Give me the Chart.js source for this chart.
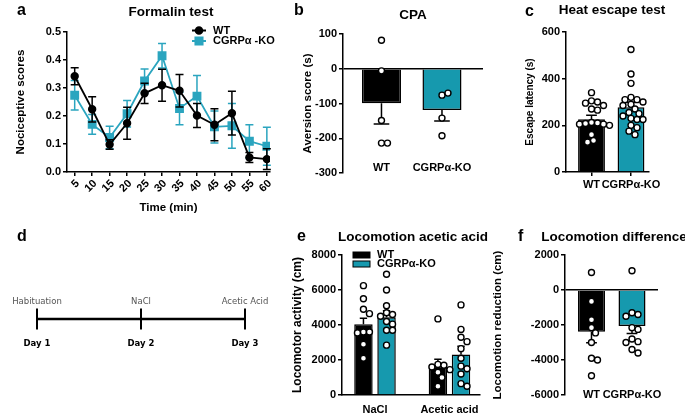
<!DOCTYPE html>
<html>
<head>
<meta charset="utf-8">
<script src="https://cdn.jsdelivr.net/npm/chart.js@4.4.1/dist/chart.umd.min.js"></script>
<style>
  body { margin: 0; width: 685px; height: 415px; background: #fff; position: relative; overflow: hidden;
         font-family: "Liberation Sans", Arial, sans-serif; }
  canvas { position: absolute; }
  .lbl { position: absolute; font-weight: bold; white-space: nowrap; line-height: 1; font-size: 16px; }
  .ttl { position: absolute; font-weight: bold; white-space: nowrap; line-height: 1; font-size: 13.5px; transform: translateX(-50%); }
</style>
</head>
<body>
<canvas id="chartA" width="285" height="215" style="left:0;top:0"></canvas>
<canvas id="chartB" width="200" height="200" style="left:290px;top:0"></canvas>
<canvas id="chartC" width="195" height="200" style="left:490px;top:0"></canvas>
<canvas id="chartD" width="285" height="175" style="left:0;top:240px"></canvas>
<canvas id="chartE" width="200" height="175" style="left:290px;top:240px"></canvas>
<canvas id="chartF" width="195" height="175" style="left:490px;top:240px"></canvas>

<div class="lbl" style="left:17px;top:2px">a</div>
<div class="lbl" style="left:294px;top:2px">b</div>
<div class="lbl" style="left:525px;top:3px">c</div>
<div class="lbl" style="left:17px;top:228px">d</div>
<div class="lbl" style="left:297px;top:228px">e</div>
<div class="lbl" style="left:518px;top:228px">f</div>

<div class="ttl" style="left:171px;top:5px">Formalin test</div>
<div class="ttl" style="left:413px;top:8px">CPA</div>
<div class="ttl" style="left:612px;top:3px">Heat escape test</div>
<div class="ttl" style="left:413px;top:230px">Locomotion acetic acid</div>
<div class="ttl" style="left:614px;top:230px">Locomotion difference</div>

<script>
// a - formalin test
const timeMin = [5, 10, 15, 20, 25, 30, 35, 40, 45, 50, 55, 60];
const wtScore = [0.342, 0.224, 0.098, 0.174, 0.281, 0.31, 0.29, 0.202, 0.169, 0.21, 0.052, 0.046];
const wtScoreSem = [0.03, 0.045, 0.017, 0.057, 0.036, 0.057, 0.058, 0.043, 0.057, 0.078, 0.018, 0.037];
const koScore = [0.274, 0.17, 0.123, 0.208, 0.325, 0.415, 0.227, 0.271, 0.161, 0.165, 0.11, 0.092];
const koScoreSem = [0.053, 0.035, 0.04, 0.047, 0.043, 0.044, 0.058, 0.074, 0.057, 0.08, 0.059, 0.068];

const groups = ['WT', 'CGRPα-KO'];

// b - CPA
const cpaMean = [-99, -119];
const cpaSem = [60, 31];
const cpaWT = [82, -6, -149, -214, -214];
const cpaKO = [-76, -70, -142, -193];

// c - heat escape
const escapeMean = [226, 278];
const escapeSem = [17, 21];
const escapeWT = [340, 305, 300, 295, 285, 270, 265, 212, 210, 208, 205, 205, 200, 160, 135, 128];
const escapeKO = [525, 420, 380, 320, 310, 310, 300, 290, 285, 270, 255, 250, 240, 230, 225, 225, 200, 190, 175, 160];

// d - protocol
const dayLabels = ['Day 1', 'Day 2', 'Day 3'];
const dayEvents = ['Habituation', 'NaCl', 'Acetic Acid'];

// e - locomotion
const locoConditions = ['NaCl', 'Acetic acid'];
const locoMeanWT = [4040, 1660];
const locoSemWT = [340, 380];
const locoMeanKO = [4440, 2320];
const locoSemKO = [380, 470];
const locoNaclWT = [6250, 5500, 4900, 4650, 3600, 3600, 3550, 2900, 2100];
const locoNaclKO = [6900, 6000, 5100, 4700, 4600, 4500, 4200, 4050, 3700, 3700, 2850];
const locoAceticWT = [4350, 1750, 1700, 1600, 1450, 1300, 1000, 500];
const locoAceticKO = [5150, 3750, 3300, 3050, 2650, 2100, 1650, 1500, 1200, 650, 500];

// f - locomotion difference
const diffMean = [-2380, -2060];
const diffSem = [630, 420];
const diffWT = [1000, -650, -1700, -2150, -2450, -3000, -3900, -4000, -4900];
const diffKO = [1100, -1300, -1400, -1500, -2150, -2250, -2800, -2950, -3000, -3400, -3600];

const FONT = "'Liberation Sans', Arial, sans-serif";
const BLACK = '#000';
const TEAL_BAR = '#1699ae';
const TEAL_LINE = '#2ba5bf';
const tickFont = { size: 11, weight: 'bold' };

Chart.defaults.responsive = false;
Chart.defaults.animation = false;
Chart.defaults.font.family = FONT;
Chart.defaults.font.weight = 'bold';
Chart.defaults.color = BLACK;
Chart.defaults.plugins.legend.display = false;
Chart.defaults.plugins.tooltip.enabled = false;

// SEM whiskers: both ways on lines, outward only on bars
const errorBars = {
  id: 'errorBars',
  afterDatasetDraw(chart, args) {
    const ds = chart.data.datasets[args.index];
    if (!ds.errors) return;
    const y = chart.scales.y, ctx = chart.ctx;
    const isBar = args.meta.type === 'bar';
    ctx.save();
    ctx.strokeStyle = isBar ? BLACK : ds.borderColor;
    ctx.lineWidth = 1.5;
    args.meta.data.forEach((el, i) => {
      const v = ds.data[i].y, e = ds.errors[i];
      const cap = isBar ? el.width * 0.4 : 8;
      const ends = isBar ? [v + (v < 0 ? -e : e)] : [v - e, v + e];
      const from = isBar ? v : v - e;
      ctx.beginPath();
      ctx.moveTo(el.x, y.getPixelForValue(from));
      ctx.lineTo(el.x, y.getPixelForValue(ends[ends.length - 1]));
      ends.forEach(end => {
        const py = y.getPixelForValue(end);
        ctx.moveTo(el.x - cap / 2, py);
        ctx.lineTo(el.x + cap / 2, py);
      });
      ctx.stroke();
    });
    ctx.restore();
  }
};

const miniLegend = {
  id: 'miniLegend',
  afterDraw(chart, args, o) {
    if (!o.kind) return;
    const ctx = chart.ctx;
    ctx.save();
    ctx.font = 'bold 11px ' + FONT;
    ctx.textBaseline = 'middle';
    chart.data.datasets.filter(ds => ds.label).forEach((ds, i) => {
      const y = o.y + i * o.gap;
      if (o.kind === 'line') {
        ctx.strokeStyle = ds.borderColor;
        ctx.fillStyle = ds.backgroundColor;
        ctx.lineWidth = 2;
        ctx.beginPath(); ctx.moveTo(o.x, y); ctx.lineTo(o.x + 14, y); ctx.stroke();
        Chart.helpers.drawPoint(ctx, { pointStyle: ds.pointStyle, radius: ds.pointRadius, borderWidth: 1, rotation: 0 }, o.x + 7, y);
      } else {
        ctx.fillStyle = ds.backgroundColor;
        ctx.fillRect(o.x, y - 3, 17, 6);
        ctx.strokeStyle = BLACK; ctx.lineWidth = 1;
        ctx.strokeRect(o.x, y - 3, 17, 6);
      }
      ctx.fillStyle = BLACK;
      ctx.fillText(ds.label, o.textX, y);
    });
    ctx.restore();
  }
};

const eventText = {
  id: 'eventText',
  afterDatasetsDraw(chart, args, o) {
    if (!o.labels) return;
    const ctx = chart.ctx;
    ctx.save();
    ctx.font = "8.5px 'DejaVu Sans'";
    ctx.fillStyle = '#555';
    ctx.textAlign = 'center';
    ctx.textBaseline = 'middle';
    chart.getDatasetMeta(0).data.forEach((pt, i) => ctx.fillText(o.labels[i], pt.x, pt.y - o.offset));
    ctx.restore();
  }
};

Chart.register(errorBars, miniLegend, eventText);

function valueAxis(o) {
  return {
    min: o.min, max: o.max,
    ticks: { stepSize: o.step, font: tickFont, padding: 2, callback: o.fmt || (v => String(v)) },
    grid: {
      drawOnChartArea: !!o.zero,
      color: c => (c.tick && c.tick.value === 0) ? BLACK : 'rgba(0,0,0,0)',
      tickColor: BLACK, tickLength: 4, lineWidth: 1.5
    },
    border: { color: BLACK, width: 1.5 },
    title: { display: true, text: o.title, font: { size: o.titleSize || 11.5, weight: 'bold' }, padding: { top: o.titlePad, bottom: 0 } },
    afterFit: s => { s.width = o.width; }
  };
}

// group labels; "mirror" lets the labels sit just above the bottom edge of the plot, as in the figure
function groupAxis(o) {
  return {
    type: 'linear', min: o.min, max: o.max, offset: false,
    afterBuildTicks: s => { s.ticks = o.labels.map((_, i) => ({ value: i })); },
    afterFit: s => { s.height = o.height; },
    ticks: { autoSkip: false, maxRotation: 0, mirror: !!o.mirror, padding: o.pad, font: tickFont, callback: v => o.labels[v] },
    grid: { display: !!o.tickMarks, offset: false, drawOnChartArea: false, tickColor: BLACK, tickLength: 4, lineWidth: 1.5 },
    border: { display: !!o.border, color: BLACK, width: 1.5 }
  };
}

function dotSet(values, bar, index) {
  return {
    type: 'scatter', data: values.map(v => ({ x: 0, y: v })), dots: { values, bar, index },
    pointRadius: 3, pointBackgroundColor: '#fff', pointBorderColor: BLACK, pointBorderWidth: 1.4, order: 1
  };
}

// spread the dots of each group sideways round its bar so they do not cover each other
function placeDots(chart) {
  const xs = chart.scales.x, ys = chart.scales.y;
  const sep = 6, step = 2;
  chart.data.datasets.forEach(ds => {
    if (!ds.dots) return;
    const bar = chart.getDatasetMeta(ds.dots.bar).data[ds.dots.index];
    const placed = [];
    ds.data = ds.dots.values.map(v => {
      const py = ys.getPixelForValue(v);
      let off = 0;
      for (let k = 0; k < 60; k++) {
        off = (k % 2 ? 1 : -1) * Math.ceil(k / 2) * step;
        if (placed.every(p => Math.hypot(p.x - off, p.y - py) >= sep)) break;
      }
      placed.push({ x: off, y: py });
      return { x: xs.getValueForPixel(bar.x + off), y: v };
    });
  });
  chart.update('none');
}

function twoBarChart(id, o) {
  const chart = new Chart(document.getElementById(id), {
    type: 'bar',
    data: {
      datasets: [
        { type: 'bar', data: o.means.map((m, i) => ({ x: i, y: m })), errors: o.sems,
          backgroundColor: [BLACK, TEAL_BAR], borderColor: BLACK, borderWidth: 1.5,
          categoryPercentage: o.barPct, barPercentage: 1, order: 2 },
        dotSet(o.dots[0], 0, 0),
        dotSet(o.dots[1], 0, 1)
      ]
    },
    options: {
      layout: { padding: o.padding },
      scales: {
        x: groupAxis({ min: o.xMin, max: o.xMax, labels: groups, height: o.xHeight, pad: o.labelPad,
          mirror: o.mirror, tickMarks: o.tickMarks, border: o.border }),
        y: valueAxis(o.y)
      }
    }
  });
  placeDots(chart);
}

// a
new Chart(document.getElementById('chartA'), {
  type: 'line',
  data: {
    datasets: [
      { label: 'WT', data: timeMin.map((t, i) => ({ x: t, y: wtScore[i] })), errors: wtScoreSem,
        borderColor: BLACK, backgroundColor: BLACK, pointStyle: 'circle', pointRadius: 3.3, borderWidth: 1.8, order: 1 },
      { label: 'CGRPα -KO', data: timeMin.map((t, i) => ({ x: t, y: koScore[i] })), errors: koScoreSem,
        borderColor: TEAL_LINE, backgroundColor: TEAL_LINE, pointStyle: 'rect', pointRadius: 5, borderWidth: 1.8, order: 2 }
    ]
  },
  options: {
    layout: { padding: { left: 0, top: 32, right: 15, bottom: 0 } },
    scales: {
      x: {
        type: 'linear', min: 2.8, max: 60.9,
        afterBuildTicks: s => { s.ticks = timeMin.map(v => ({ value: v })); },
        afterFit: s => { s.height = 43; },
        ticks: { autoSkip: false, minRotation: 45, maxRotation: 45, labelOffset: 3, padding: 1, font: tickFont },
        grid: { drawOnChartArea: false, tickColor: BLACK, tickLength: 4, lineWidth: 1.5 },
        border: { color: BLACK, width: 1.5 },
        title: { display: true, text: 'Time (min)', font: { size: 11.5, weight: 'bold' }, padding: { top: 5, bottom: 0 } }
      },
      y: valueAxis({ min: 0, max: 0.5, step: 0.1, width: 67, title: 'Nociceptive scores', titlePad: 14, fmt: v => v.toFixed(1) })
    },
    plugins: { miniLegend: { kind: 'line', x: 192, y: 30.5, gap: 10.5, textX: 213 } }
  }
});

// b
twoBarChart('chartB', {
  means: cpaMean, sems: cpaSem, dots: [cpaWT, cpaKO], barPct: 0.645,
  xMin: -0.636, xMax: 1.678, xHeight: 27, labelPad: -1.6, mirror: true,
  padding: { left: 0, top: 34, right: 7, bottom: 0 },
  y: { min: -300, max: 100, step: 100, width: 53, title: 'Aversion score (s)', titlePad: 11, zero: true }
});

// c
twoBarChart('chartC', {
  means: escapeMean, sems: escapeSem, dots: [escapeWT, escapeKO], barPct: 0.68,
  xMin: -0.646, xMax: 1.456, xHeight: 28, labelPad: 2, tickMarks: true, border: true,
  padding: { left: 0, top: 32, right: 36, bottom: 0 },
  y: { min: 0, max: 600, step: 200, width: 76, title: 'Escape latency (s)', titlePad: 34, titleSize: 10 }
});

// d
new Chart(document.getElementById('chartD'), {
  type: 'line',
  data: {
    labels: dayLabels,
    datasets: [{ data: dayLabels.map(() => 0), borderColor: BLACK, borderWidth: 2.5,
      pointStyle: 'line', pointRotation: 90, pointRadius: 10.5, pointBorderWidth: 2, pointBorderColor: BLACK, clip: false }]
  },
  options: {
    layout: { padding: { left: 37, right: 40, top: 69, bottom: 66 } },
    scales: {
      x: { offset: false, grid: { display: false }, border: { display: false },
        ticks: { padding: 2, font: { family: "'DejaVu Sans'", size: 8.5, weight: 'bold' } },
        afterFit: s => { s.height = 20; } },
      y: { display: false, min: -1, max: 1 }
    },
    plugins: { eventText: { labels: dayEvents, offset: 17 } }
  }
});

// e
const chartE = new Chart(document.getElementById('chartE'), {
  type: 'bar',
  data: {
    datasets: [
      { type: 'bar', label: 'WT', data: locoMeanWT.map((m, i) => ({ x: i, y: m })), errors: locoSemWT,
        backgroundColor: BLACK, borderColor: BLACK, borderWidth: 1.5, categoryPercentage: 0.62, barPercentage: 0.8, order: 2 },
      { type: 'bar', label: 'CGRPα-KO', data: locoMeanKO.map((m, i) => ({ x: i, y: m })), errors: locoSemKO,
        backgroundColor: TEAL_BAR, borderColor: BLACK, borderWidth: 1.5, categoryPercentage: 0.62, barPercentage: 0.8, order: 2 },
      dotSet(locoNaclWT, 0, 0),
      dotSet(locoNaclKO, 1, 0),
      dotSet(locoAceticWT, 0, 1),
      dotSet(locoAceticKO, 1, 1)
    ]
  },
  options: {
    layout: { padding: { left: 0, top: 15, right: 10, bottom: 0 } },
    scales: {
      x: groupAxis({ min: -0.443, max: 1.41, labels: locoConditions, height: 20, pad: 4, border: true }),
      y: valueAxis({ min: 0, max: 8000, step: 2000, width: 52, title: 'Locomotor activity (cm)', titlePad: 0, titleSize: 12 })
    },
    plugins: { miniLegend: { kind: 'box', x: 63, y: 15, gap: 9, textX: 87 } }
  }
});
placeDots(chartE);

// f
twoBarChart('chartF', {
  means: diffMean, sems: diffSem, dots: [diffWT, diffKO], barPct: 0.667,
  xMin: -0.654, xMax: 1.642, xHeight: 20, labelPad: -6.6, mirror: true,
  padding: { left: 0, top: 15, right: 27, bottom: 0 },
  y: { min: -6000, max: 2000, step: 2000, width: 75, title: 'Locomotion reduction (cm)', titlePad: 1, zero: true }
});
</script>
</body>
</html>
